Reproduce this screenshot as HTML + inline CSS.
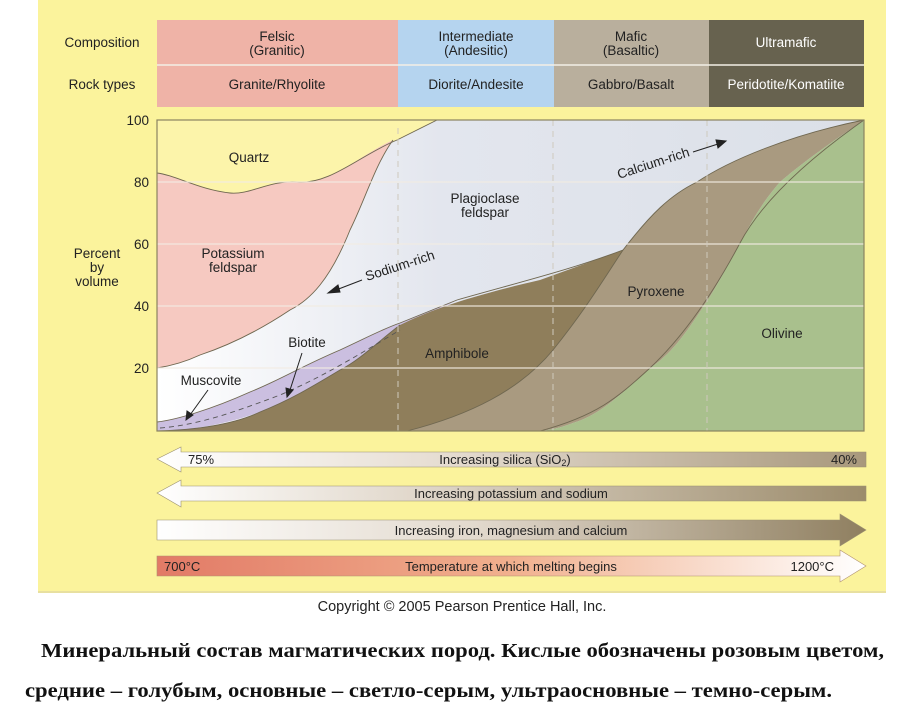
<!DOCTYPE html>
<html><head><meta charset="utf-8"><style>
body{margin:0;background:#fff;width:898px;height:706px;overflow:hidden}
svg{display:block}
text{font-family:"Liberation Sans",sans-serif}
</style></head><body>
<svg width="898" height="706" viewBox="0 0 898 706">
<defs>
<linearGradient id="plg" x1="0" x2="1" y1="0" y2="0"><stop offset="0" stop-color="#ffffff"/><stop offset="0.4" stop-color="#e3e6ee"/><stop offset="1" stop-color="#dbe0e8"/></linearGradient>
<linearGradient id="ar1" x1="0" x2="1"><stop offset="0" stop-color="#fff"/><stop offset="0.4" stop-color="#e6ddd2"/><stop offset="1" stop-color="#a8987c"/></linearGradient>
<linearGradient id="ar2" x1="0" x2="1"><stop offset="0" stop-color="#fff"/><stop offset="0.35" stop-color="#e2d9cd"/><stop offset="1" stop-color="#9c8c6c"/></linearGradient>
<linearGradient id="ar3" x1="0" x2="1"><stop offset="0" stop-color="#fff"/><stop offset="0.45" stop-color="#e2d9cd"/><stop offset="1" stop-color="#8f7f60"/></linearGradient>
<linearGradient id="ar4" x1="0" x2="1"><stop offset="0" stop-color="#e27a66"/><stop offset="0.5" stop-color="#f1b08e"/><stop offset="1" stop-color="#fff"/></linearGradient>
</defs>
<rect x="38" y="0" width="848" height="592" fill="#fbf39c"/>
<line x1="38" y1="592" x2="886" y2="592" stroke="#e8e0a0" stroke-width="2"/>
<rect x="157" y="20" width="241" height="87" fill="#efb3a7"/>
<rect x="398" y="20" width="156" height="87" fill="#b5d4ef"/>
<rect x="554" y="20" width="155" height="87" fill="#b9af9d"/>
<rect x="709" y="20" width="155" height="87" fill="#67624f"/>
<line x1="157" y1="65" x2="864" y2="65" stroke="#f3efe6" stroke-width="1.5"/>
<g font-size="13.5" text-anchor="middle" fill="#222">
<text x="102" y="47">Composition</text>
<text x="102" y="89">Rock types</text>
<text x="277" y="41">Felsic</text><text x="277" y="55">(Granitic)</text>
<text x="476" y="41">Intermediate</text><text x="476" y="55">(Andesitic)</text>
<text x="631" y="41">Mafic</text><text x="631" y="55">(Basaltic)</text>
<text x="786" y="47" fill="#fff">Ultramafic</text>
<text x="277" y="89">Granite/Rhyolite</text>
<text x="476" y="89">Diorite/Andesite</text>
<text x="631" y="89">Gabbro/Basalt</text>
<text x="786" y="89" fill="#fff">Peridotite/Komatiite</text>
</g>
<rect x="157" y="120" width="707" height="311" fill="url(#plg)"/>
<path d="M157,120 L437,120 L397,140 C360,155 330,185 297,182 C270,180 250,195 230,193 C200,190 175,175 157,173 Z" fill="#fcf4aa"/>
<path d="M157,173 C175,175 200,190 230,193 C250,195 270,180 297,182 C330,185 360,155 393,140 C375,165 365,200 350,230 C330,280 310,300 290,310 C260,330 230,345 200,355 C185,362 170,366 157,368 Z" fill="#f6c9c1"/>
<path d="M157,422 C175,420 210,410 250,392 C280,380 300,367 340,350 C370,336 385,328 400,323 L457,300 L405,328 C380,340 360,360 340,370 C310,388 290,400 260,412 C220,426 190,430 157,431 Z" fill="#cbbfe0"/>
<path d="M157,431 C190,430 230,426 260,412 C290,400 310,388 340,370 C360,360 380,340 400,325 C430,310 470,296 540,280 L623,250 C600,285 585,310 553,350 C520,390 470,415 407,431 Z" fill="#8f7e5b"/>
<path d="M407,431 C470,415 520,390 553,350 C585,310 600,285 623,250 C650,215 670,195 697,182 C730,160 790,135 864,120 C820,150 800,165 780,182 C760,205 750,225 740,243 C725,270 715,290 703,307 C685,335 670,355 650,368 C620,395 600,415 573,423 C560,428 550,430 540,431 Z" fill="#a99a80"/>
<path d="M540,431 C550,430 560,428 573,423 C600,415 620,395 650,368 C670,355 685,335 703,307 C715,290 725,270 740,243 C750,225 760,205 780,182 C800,165 820,150 864,120 L864,431 Z" fill="#a9c08d"/>
<g fill="none" stroke="#6f6750" stroke-width="0.9">
<path d="M157,173 C175,175 200,190 230,193 C250,195 270,180 297,182 C330,185 360,155 397,140 L437,120"/>
<path d="M393,140 C375,165 365,200 350,230 C330,280 310,300 290,310 C260,330 230,345 200,355 C185,362 170,366 157,368"/>
<path d="M157,422 C175,420 210,410 250,392 C280,380 300,367 340,350 C370,336 385,328 400,323 L457,300 C520,282 570,270 623,250 C650,215 670,195 697,182 C730,160 790,135 864,120"/>
<path d="M157,431 C190,430 230,426 260,412 C290,400 310,388 340,370 C360,360 380,340 400,325"/>
<path d="M407,431 C470,415 520,390 553,350 C585,310 600,285 623,250"/>
<path d="M540,431 C600,415 620,395 650,368 C685,335 715,290 740,243 C760,205 800,165 864,120"/>
<path d="M160,428 C200,425 240,410 280,395 C320,378 350,360 400,330" stroke-dasharray="5,4" stroke="#555"/>
</g>
<g stroke="#f2ece2" stroke-width="1.2" opacity="0.9">
<line x1="157" y1="182" x2="864" y2="182"/><line x1="157" y1="244" x2="864" y2="244"/>
<line x1="157" y1="306" x2="864" y2="306"/><line x1="157" y1="368" x2="864" y2="368"/>
</g>
<g stroke="#cfc9bd" stroke-width="1" stroke-dasharray="6,5">
<line x1="398" y1="128" x2="398" y2="431"/><line x1="553" y1="120" x2="553" y2="431"/><line x1="707" y1="120" x2="707" y2="431"/>
</g>
<rect x="157" y="120" width="707" height="311" fill="none" stroke="#8a8360" stroke-width="1.2"/>
<g font-size="13.5" fill="#222">
<text x="149" y="125" text-anchor="end">100</text><text x="149" y="187" text-anchor="end">80</text>
<text x="149" y="249" text-anchor="end">60</text><text x="149" y="311" text-anchor="end">40</text>
<text x="149" y="373" text-anchor="end">20</text>
<text x="97" y="258" text-anchor="middle">Percent</text><text x="97" y="272" text-anchor="middle">by</text><text x="97" y="286" text-anchor="middle">volume</text>
<text x="249" y="162" text-anchor="middle">Quartz</text>
<text x="233" y="258" text-anchor="middle">Potassium</text><text x="233" y="272" text-anchor="middle">feldspar</text>
<text x="485" y="203" text-anchor="middle">Plagioclase</text><text x="485" y="217" text-anchor="middle">feldspar</text>
<text x="307" y="347" text-anchor="middle">Biotite</text>
<text x="211" y="385" text-anchor="middle">Muscovite</text>
<text x="457" y="358" text-anchor="middle">Amphibole</text>
<text x="656" y="296" text-anchor="middle">Pyroxene</text>
<text x="782" y="338" text-anchor="middle">Olivine</text>
<text x="0" y="0" transform="translate(367,281) rotate(-18)">Sodium-rich</text>
<text x="0" y="0" transform="translate(619,179) rotate(-18)">Calcium-rich</text>
</g>
<g stroke="#222" stroke-width="1" fill="#222">
<line x1="362" y1="280" x2="336" y2="290"/><path d="M328,293 L338,285 L340,292 Z"/>
<line x1="693" y1="152" x2="718" y2="144"/><path d="M726,141 L716,140 L718,148 Z"/>
<line x1="302" y1="353" x2="290" y2="390"/><path d="M287,397 L286,388 L293,390 Z"/>
<line x1="208" y1="390" x2="190" y2="415"/><path d="M186,420 L187,411 L193,415 Z"/>
</g>
<path d="M181,447 L181,452 L866,452 L866,467 L181,467 L181,472 L157,459 Z" fill="url(#ar1)" stroke="#9a9070" stroke-width="0.6"/>
<path d="M181,480 L181,486 L866,486 L866,501 L181,501 L181,507 L157,493 Z" fill="url(#ar2)" stroke="#9a9070" stroke-width="0.6"/>
<path d="M157,520 L840,520 L840,514 L866,530 L840,546 L840,540 L157,540 Z" fill="url(#ar3)" stroke="#9a9070" stroke-width="0.6"/>
<path d="M157,556 L840,556 L840,550 L866,566 L840,582 L840,576 L157,576 Z" fill="url(#ar4)" stroke="#b09070" stroke-width="0.6"/>
<g font-size="13" fill="#222">
<text x="188" y="464">75%</text>
<text x="505" y="464" text-anchor="middle">Increasing silica (SiO<tspan font-size="9" dy="2">2</tspan><tspan dy="-2">)</tspan></text>
<text x="857" y="464" text-anchor="end">40%</text>
<text x="511" y="498" text-anchor="middle">Increasing potassium and sodium</text>
<text x="511" y="535" text-anchor="middle">Increasing iron, magnesium and calcium</text>
<text x="164" y="571">700°C</text>
<text x="511" y="571" text-anchor="middle">Temperature at which melting begins</text>
<text x="834" y="571" text-anchor="end">1200°C</text>
<text x="462" y="611" text-anchor="middle" font-size="14.5">Copyright © 2005 Pearson Prentice Hall, Inc.</text>
</g>
<g font-weight="bold" font-size="20" fill="#111">
<text x="41" y="657" textLength="843" lengthAdjust="spacingAndGlyphs" style="font-family:'Liberation Serif',serif">Минеральный состав магматических пород. Кислые обозначены розовым цветом,</text>
<text x="25" y="697" textLength="807" lengthAdjust="spacingAndGlyphs" style="font-family:'Liberation Serif',serif">средние – голубым, основные – светло-серым, ультраосновные – темно-серым.</text>
</g>
</svg>
</body></html>
